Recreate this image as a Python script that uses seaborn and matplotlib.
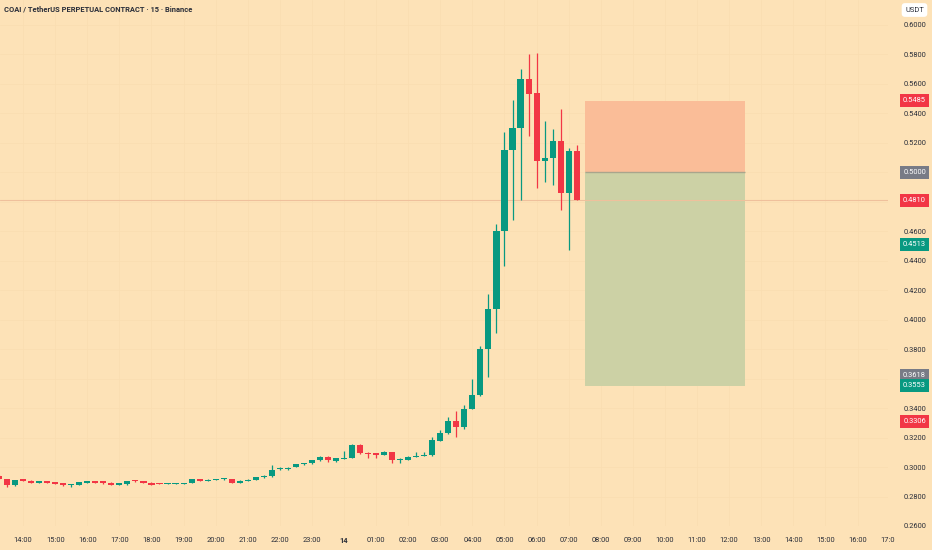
import matplotlib
matplotlib.use('Agg')
import matplotlib.pyplot as plt
from matplotlib.transforms import Bbox, TransformedBbox, blended_transform_factory
import numpy as np
import pandas as pd
import seaborn as sns

# 15 minute candles, COAIUSDT perp, first one at 13:15 on the 13th
start = '2025-10-13 13:15'
opens = [0.2940, 0.2917, 0.2877, 0.2917, 0.2906, 0.2895, 0.2904, 0.2899, 0.2890, 0.2875,
         0.2881, 0.2895, 0.2904, 0.2904, 0.2895, 0.2879, 0.2885, 0.2908, 0.2904, 0.2895,
         0.2892, 0.2886, 0.2886, 0.2885, 0.2892, 0.2917, 0.2908, 0.2911, 0.2917, 0.2917,
         0.2895, 0.2904, 0.2913, 0.2931, 0.2936, 0.2985, 0.2985, 0.2999, 0.3019, 0.3026,
         0.3046, 0.3071, 0.3044, 0.3055, 0.3062, 0.3152, 0.3098, 0.3089, 0.3085, 0.3102,
         0.3046, 0.3048, 0.3071, 0.3075, 0.3080, 0.3180, 0.3229, 0.3310, 0.3274, 0.3396,
         0.3491, 0.3798, 0.4069, 0.4604, 0.5153, 0.5298, 0.5634, 0.5535, 0.5074, 0.5097,
         0.5214, 0.4860, 0.5142]
highs = [0.2944, 0.2920, 0.2914, 0.2920, 0.2909, 0.2906, 0.2906, 0.2901, 0.2892, 0.2887,
         0.2901, 0.2907, 0.2906, 0.2906, 0.2897, 0.2892, 0.2907, 0.2911, 0.2906, 0.2897,
         0.2894, 0.2891, 0.2891, 0.2894, 0.2919, 0.2920, 0.2918, 0.2921, 0.2925, 0.2919,
         0.2910, 0.2917, 0.2933, 0.2944, 0.3012, 0.2998, 0.2997, 0.3023, 0.3030, 0.3050,
         0.3073, 0.3078, 0.3060, 0.3107, 0.3153, 0.3155, 0.3100, 0.3091, 0.3108, 0.3105,
         0.3064, 0.3073, 0.3102, 0.3102, 0.3207, 0.3251, 0.3337, 0.3378, 0.3423, 0.3595,
         0.3823, 0.4177, 0.4652, 0.5275, 0.5492, 0.5702, 0.5804, 0.5812, 0.5350, 0.5293,
         0.5431, 0.5167, 0.5182]
lows = [0.2918, 0.2863, 0.2872, 0.2905, 0.2892, 0.2892, 0.2893, 0.2882, 0.2874, 0.2868,
        0.2879, 0.2893, 0.2893, 0.2888, 0.2878, 0.2876, 0.2880, 0.2900, 0.2893, 0.2879,
        0.2883, 0.2884, 0.2884, 0.2883, 0.2890, 0.2906, 0.2902, 0.2909, 0.2915, 0.2893,
        0.2890, 0.2902, 0.2911, 0.2929, 0.2934, 0.2982, 0.2983, 0.2997, 0.3012, 0.3020,
        0.3044, 0.3032, 0.3032, 0.3053, 0.3060, 0.3090, 0.3064, 0.3060, 0.3083, 0.3030,
        0.3030, 0.3046, 0.3069, 0.3073, 0.3078, 0.3178, 0.3225, 0.3202, 0.3260, 0.3394,
        0.3480, 0.3608, 0.3911, 0.4362, 0.4674, 0.4814, 0.5248, 0.4894, 0.4932, 0.4916,
        0.4742, 0.4476, 0.4810]
closes = [0.2922, 0.2877, 0.2911, 0.2908, 0.2895, 0.2904, 0.2895, 0.2885, 0.2877, 0.2885,
          0.2899, 0.2904, 0.2895, 0.2890, 0.2881, 0.2890, 0.2904, 0.2902, 0.2895, 0.2881,
          0.2885, 0.2889, 0.2889, 0.2892, 0.2917, 0.2908, 0.2913, 0.2919, 0.2922, 0.2895,
          0.2908, 0.2915, 0.2931, 0.2942, 0.2980, 0.2990, 0.2994, 0.3021, 0.3028, 0.3048,
          0.3071, 0.3048, 0.3058, 0.3062, 0.3150, 0.3093, 0.3089, 0.3085, 0.3105, 0.3048,
          0.3053, 0.3071, 0.3075, 0.3080, 0.3184, 0.3229, 0.3310, 0.3274, 0.3392, 0.3491,
          0.3803, 0.4069, 0.4604, 0.5153, 0.5302, 0.5634, 0.5531, 0.5074, 0.5097, 0.5214,
          0.4860, 0.5142, 0.4810]

# short position tool
pos_start = '2025-10-14 07:30'
pos_end = '2025-10-14 12:30'
entry = 0.5000
stop = 0.5485
target = 0.3553

# price scale labels (value, colour)
price_tags = [(0.5485, '#F23645'), (0.5000, '#787B86'), (0.4810, '#F23645'),
              (0.4513, '#089981'), (0.3618, '#787B86'), (0.3553, '#089981'),
              (0.3306, '#F23645')]
price_ticks = [0.26, 0.28, 0.30, 0.32, 0.34, 0.36, 0.38, 0.40, 0.42, 0.44,
               0.46, 0.48, 0.50, 0.52, 0.54, 0.56, 0.58, 0.60]
hidden_ticks = [0.36, 0.48, 0.50]
time_labels = ['14:00', '15:00', '16:00', '17:00', '18:00', '19:00', '20:00', '21:00',
               '22:00', '23:00', '14', '01:00', '02:00', '03:00', '04:00', '05:00',
               '06:00', '07:00', '08:00', '09:00', '10:00', '11:00', '12:00', '13:00',
               '14:00', '15:00', '16:00', '17:00']

bg = '#FDE2B7'
up_col = '#089981'
down_col = '#F23645'
txt_col = '#2A2E39'

sns.set_style('white', rc={'axes.facecolor': bg, 'figure.facecolor': bg})
plt.rcParams['font.family'] = ['Roboto', 'DejaVu Sans']

t0 = pd.Timestamp('2025-10-13 14:00')
hour = pd.Timedelta(hours=1)
df = pd.DataFrame({'time': pd.date_range(start, periods=len(closes), freq='15min'),
                   'open': opens, 'high': highs, 'low': lows, 'close': closes})
df['x'] = (df['time'] - t0) / hour
df['up'] = df['close'] >= df['open']
df['color'] = np.where(df['up'], up_col, down_col)
df['body_low'] = df[['open', 'close']].min(axis=1)
df['body_h'] = (df['close'] - df['open']).abs().clip(lower=0.0007)

fig = plt.figure(figsize=(9.32, 5.5), dpi=100)
W, H = 932, 550
ax = fig.add_axes([0, 24 / H, 888 / W, 526 / H])

# faint grid
for p in price_ticks:
    ax.axhline(p, color='#F9DDB1', lw=0.5, zorder=0)
for h in range(len(time_labels)):
    ax.axvline(h, color='#F9DDB1', lw=0.5, zorder=0)

# position box
x0 = (pd.Timestamp(pos_start) - t0) / hour
x1 = (pd.Timestamp(pos_end) - t0) / hour
ax.fill_between([x0, x1], entry, stop, color='#FABD98', lw=0, zorder=1)
ax.fill_between([x0, x1], target, entry, color='#CCD1A5', lw=0, zorder=1)
ax.hlines(entry, x0, x1, color='#A9A58C', lw=1.0, zorder=2)

# last price line
ax.axhline(closes[-1], color='#EFC09C', lw=0.8, zorder=1)

# candles
ax.vlines(df['x'], df['low'], df['high'], colors=df['color'], lw=0.9, zorder=3)
ax.bar(df['x'], df['body_h'], bottom=df['body_low'], width=0.19,
       color=df['color'], lw=0, zorder=4)

ax.set_xlim(-0.72, 26.95)
ax.set_ylim(0.2605, 0.6169)
for s in ax.spines.values():
    s.set_visible(False)

ax.yaxis.tick_right()
ax.set_yticks(price_ticks)
ax.set_yticklabels(['' if any(abs(p - q) < 1e-9 for q in hidden_ticks) else f'{p:.4f}'
                    for p in price_ticks])
ax.tick_params(axis='y', length=0, pad=11, labelsize=5.4, labelcolor=txt_col)

ax.set_xticks(range(len(time_labels) - 1))
ax.set_xticklabels(time_labels[:-1])
ax.tick_params(axis='x', length=0, pad=8, labelsize=5.4, labelcolor=txt_col)
for lab in ax.get_xticklabels():
    if lab.get_text() == '14':
        lab.set_fontweight('bold')

# last time label is cut by the price scale
tr = blended_transform_factory(ax.transData, fig.transFigure)
t = fig.text(len(time_labels) - 1, 9 / H, time_labels[-1], transform=tr, ha='center',
             va='center', fontsize=5.4, color=txt_col, clip_on=True)
t.set_clip_box(TransformedBbox(Bbox([[0, 0], [895 / W, 1]]), fig.transFigure))

# coloured price tags
tag_tr = blended_transform_factory(ax.transAxes, ax.transData)
for val, col in price_tags:
    ax.text(914.5 / 888, val, f'{val:.4f}', transform=tag_tr, ha='center', va='center',
            fontsize=5.4, color='white', clip_on=False,
            bbox=dict(boxstyle='square,pad=0.4', fc=col, ec='none'))

fig.text(914.5 / W, 1 - 10 / H, 'USDT', ha='center', va='center', fontsize=5.4,
         color=txt_col, bbox=dict(boxstyle='round,pad=0.45', fc='white', ec='none'))

fig.text(4 / W, 1 - 9 / H, 'COAI / TetherUS PERPETUAL CONTRACT · 15 · Binance',
         ha='left', va='center', fontsize=5.4, fontweight='bold', color=txt_col)

fig.savefig('out.png', dpi=100, facecolor=bg)
